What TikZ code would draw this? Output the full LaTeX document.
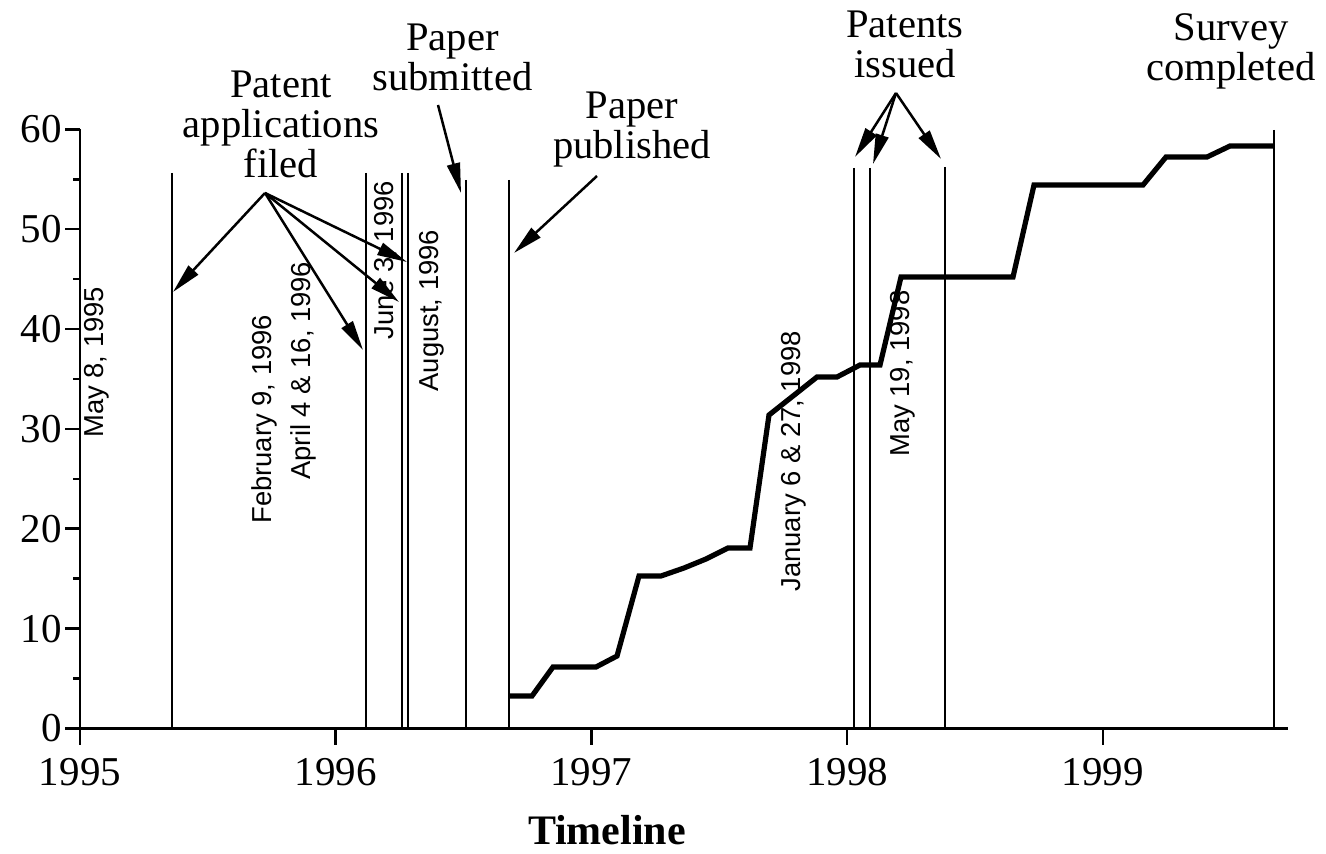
\documentclass[tikz,border=0pt]{standalone}
\usepackage{fontspec}
\setmainfont{Liberation Serif}
\setsansfont{Liberation Sans}
\usetikzlibrary{arrows.meta}
\tikzset{
  axisline/.style={line width=1.3pt},
  eventline/.style={line width=1pt},
  callout/.style={line width=1.25pt, -{Triangle[length=15pt,width=6.5pt]}},
  countcurve/.style={line width=2.6pt, line join=miter},
  notelabel/.style={font=\fontsize{20.3}{20}\selectfont, align=center, anchor=base, inner sep=0pt},
  datelabel/.style={font=\sffamily\fontsize{13.7}{14}\selectfont, rotate=90, anchor=base west, inner sep=0pt},
  ticklabel/.style={font=\fontsize{20.5}{21}\selectfont, inner sep=0pt},
}
\begin{document}
\begin{tikzpicture}[x=0.5pt,y=-0.5pt]
\useasboundingbox (0,0) rectangle (1326,854);

% rotated event dates
\node[datelabel] (d1) at (103,438) {May 8, 1995};
\node[datelabel] (d2) at (271.7,524) {February 9, 1996};
\node[datelabel] (d3) at (310,480) {April 4 \& 16, 1996};
\node[datelabel] (d4) at (393.3,340) {June 3, 1996};
\node[datelabel] (d5) at (438.3,391.7) {August, 1996};
\node[datelabel] (d6) at (800,592) {January 6 \& 27, 1998};
\node[datelabel] (d7) at (909.3,457) {May 19, 1998};

% event markers
\foreach \ex/\et in {172/173, 366/173, 401.7/173, 408.3/173, 466/180, 509.3/180,
                     854/168, 870/168, 945/167, 1274/130}
  \draw[eventline] (\ex,\et) -- (\ex,728.5);

% cumulative count
\draw[countcurve] (509,696) -- (532,696) -- (553,667) -- (596,667) -- (617,656)
  -- (639,576) -- (661,576) -- (684,568) -- (706,559) -- (728,548) -- (750,548)
  -- (769,415) -- (817,377) -- (837,377) -- (860,365) -- (880,365) -- (901,277)
  -- (1013,277) -- (1034,185) -- (1143,185) -- (1166,157) -- (1207,157)
  -- (1230,146) -- (1274,146);

% annotations (anchored at the baseline of their last line)
\node[notelabel] (filed) at (281,178) {Patent\\applications\\filed};
\node[notelabel] (subm) at (452.5,90.5) {Paper\\submitted};
\node[notelabel] (publ) at (632,159) {Paper\\published};
\node[notelabel] (issued) at (905,78) {Patents\\issued};
\node[notelabel] (survey) at (1231,81) {Survey\\completed};

\coordinate (pf) at (265,193);
\coordinate (pf1) at (173,292);
\coordinate (pf2) at (363,350);
\coordinate (pf3) at (399,302);
\coordinate (pf4) at (407,262);
\coordinate (ps) at (438,105);
\coordinate (ps1) at (461,193);
\coordinate (pp) at (597,176);
\coordinate (pp1) at (514,253);
\coordinate (pi) at (896,93);
\coordinate (pi1) at (855,157);
\coordinate (pi2) at (873,164);
\coordinate (pi3) at (941,159);

\foreach \t in {pf1,pf2,pf3,pf4} \draw[callout] (pf) -- (\t);
\draw[callout] (ps) -- (ps1);
\draw[callout] (pp) -- (pp1);
\foreach \t in {pi1,pi2,pi3} \draw[callout] (pi) -- (\t);

% axes
\draw[axisline] (80,129) -- (80,742);
\draw[axisline] (80,728.5) -- (1288,728.5);
\foreach \v in {0,10,...,60} {
  \draw[axisline] (65,{728.5-\v*9.987}) -- (80,{728.5-\v*9.987});
  \node[ticklabel, anchor=east] at (62,{728.5-\v*9.987}) {\v};
}
\foreach \v in {5,15,...,55}
  \draw[axisline] (73,{728.5-\v*9.987}) -- (80,{728.5-\v*9.987});
\foreach \k/\yr in {0/1995,1/1996,2/1997,3/1998,4/1999} {
  \draw[axisline] ({80+\k*255.7},728.5) -- ({80+\k*255.7},745);
  \node[ticklabel, anchor=base] at ({80+\k*255.7},785) {\yr};
}
\node[font=\bfseries\fontsize{21}{22}\selectfont, anchor=base, inner sep=0pt] (xlab) at (607,844) {Timeline};
\end{tikzpicture}
\end{document}
